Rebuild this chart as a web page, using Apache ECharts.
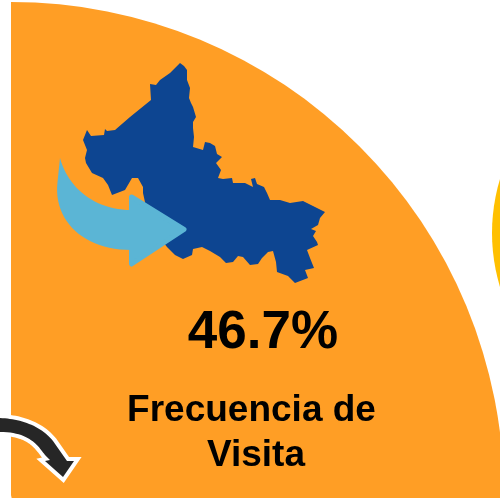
<!DOCTYPE html>
<html>
<head>
<meta charset="utf-8">
<style>
html, body { margin: 0; padding: 0; background: #ffffff; }
#chart { width: 500px; height: 498px; }
</style>
<script src="https://cdn.jsdelivr.net/npm/echarts@6/dist/echarts.min.js"></script>
</head>
<body>
<div id="chart"></div>
<script>
// data
var categories = ['Frecuencia de Visita', 'Resto'];
var values = [46.7, 53.3];
var neighbourValues = [100];

var ORANGE = '#FF9E25';
var YELLOW = '#FFC000';
var NAVY = '#0D4591';
var SKY = '#5BB5D5';
var FONT = '"Liberation Sans", Arial, sans-serif';

// silhouette of the state, traced by hand (decoration, not data)
var mapOutline = [
    [180,63],[184,66],[187,70],[187,80],[190,88],[189,98],[191,103],[193,107],[196,117],[193,122],[193,128],[194,137],
    [193,147],[203,150],[205,142],[210,143],[215,146],[217,154],[222,157],[216,163],[221,170],[218,178],
    [223,179],[232,178],[233,183],[245,183],[253,187],[251,179],[255,178],[257,184],[264,187],[267,193],
    [270,200],[280,200],[290,203],[303,201],[313,206],[325,212],[320,218],[318,225],[311,229],[316,231],
    [313,236],[317,242],[318,245],[307,250],[310,258],[314,268],[305,270],[308,278],[295,283],[288,276],
    [277,272],[276,262],[273,251],[268,252],[262,258],[258,264],[250,265],[243,257],[238,256],[233,262],
    [226,263],[220,257],[210,251],[202,247],[193,249],[192,255],[183,259],[175,255],[167,247],[150,225],
    [143,193],[143,187],[138,178],[132,178],[125,190],[112,195],[108,185],[103,178],[92,173],[86,163],
    [85,158],[87,150],[83,140],[87,130],[91,136],[104,135],[105,129],[107,131],[115,130],[130,117],
    [151,100],[150,84],[156,85],[160,80],[170,73]
];

// points along a cubic curve, for the two arrows
function curve(p0, p1, p2, p3) {
    var pts = [];
    for (var i = 0; i <= 24; i++) {
        var t = i / 24, u = 1 - t;
        pts.push([
            u * u * u * p0[0] + 3 * u * u * t * p1[0] + 3 * u * t * t * p2[0] + t * t * t * p3[0],
            u * u * u * p0[1] + 3 * u * u * t * p1[1] + 3 * u * t * t * p2[1] + t * t * t * p3[1]
        ]);
    }
    return pts;
}

var skyShaft = [].concat(
    curve([60,158], [68,188], [95,210], [131,210]),
    curve([131,250], [85,250], [53,222], [57.5,182]),
    [[60,158]]
);

var blackArrow = [].concat(
    [[-10,418]],
    curve([0,418], [20,419], [40,425], [53,441]),
    [[67,461],[74,461],[63,477],[45,461],[50,460]],
    curve([45,455], [38,446], [30,432], [0,432]),
    [[-10,432]]
);

var chart = echarts.init(document.getElementById('chart'));

var option = {
    animation: false,
    series: [
        {
            type: 'pie',
            silent: true,
            center: [11, 495],
            radius: [0, 493],
            startAngle: 90,
            clockwise: true,
            label: { show: false },
            labelLine: { show: false },
            data: [
                { name: categories[0], value: values[0], itemStyle: { color: ORANGE } },
                { name: categories[1], value: values[1], itemStyle: { color: 'rgba(0,0,0,0)' } }
            ]
        },
        {
            type: 'pie',
            silent: true,
            center: [678, 233],
            radius: [0, 186],
            label: { show: false },
            labelLine: { show: false },
            itemStyle: { color: YELLOW },
            data: neighbourValues
        }
    ],
    graphic: [
        { type: 'polygon', silent: true, z: 10, shape: { points: mapOutline }, style: { fill: NAVY } },
        // light blue arrow: shaft, then rounded head
        { type: 'polygon', silent: true, z: 11, shape: { points: skyShaft }, style: { fill: SKY } },
        {
            type: 'polygon', silent: true, z: 11,
            shape: { points: [[131.5,197],[184,229.5],[131.5,264]] },
            style: { fill: SKY, stroke: SKY, lineWidth: 5, lineJoin: 'round' }
        },
        // dark curved arrow with a white outline
        {
            type: 'polygon', silent: true, z: 11,
            shape: { points: blackArrow },
            style: { fill: '#ffffff', stroke: '#ffffff', lineWidth: 8, lineJoin: 'miter', miterLimit: 10 }
        },
        { type: 'polygon', silent: true, z: 12, shape: { points: blackArrow }, style: { fill: '#262626' } },
        {
            type: 'text', silent: true, z: 13, x: 263, y: 360,
            style: { text: values[0].toFixed(1) + '%', font: 'bold 53px ' + FONT, fill: '#000000', textAlign: 'center', textVerticalAlign: 'bottom' }
        },
        {
            type: 'text', silent: true, z: 13, x: 251.5, y: 429,
            style: { text: 'Frecuencia de', font: 'bold 37px ' + FONT, fill: '#000000', textAlign: 'center', textVerticalAlign: 'bottom' }
        },
        {
            type: 'text', silent: true, z: 13, x: 256, y: 474,
            style: { text: 'Visita', font: 'bold 37px ' + FONT, fill: '#000000', textAlign: 'center', textVerticalAlign: 'bottom' }
        }
    ]
};

chart.setOption(option);
</script>
</body>
</html>
